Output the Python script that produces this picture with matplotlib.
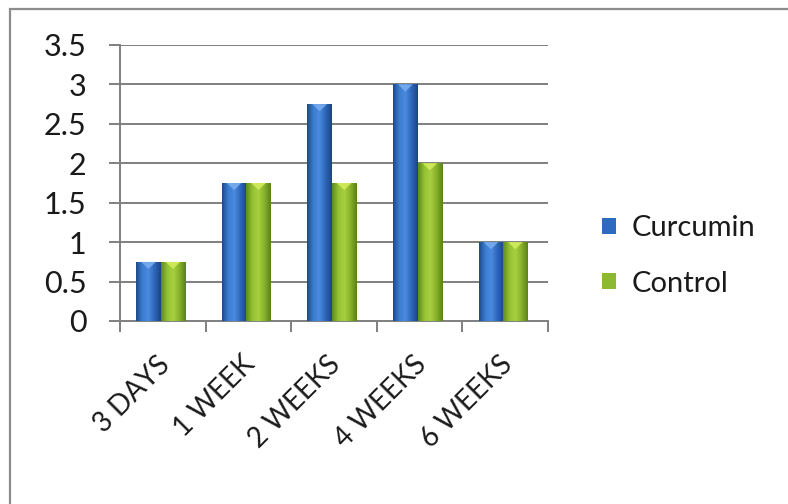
import matplotlib
matplotlib.use("Agg")
import matplotlib.pyplot as plt
import numpy as np
from matplotlib.patches import Rectangle, Polygon
from matplotlib.colors import LinearSegmentedColormap

categories = ["3 DAYS", "1 WEEK", "2 WEEKS", "4 WEEKS", "6 WEEKS"]
curcumin = [0.75, 1.75, 2.75, 3.0, 1.0]
control = [0.75, 1.75, 1.75, 2.0, 1.0]
series_names = ["Curcumin", "Control"]
y_ticks = [0, 0.5, 1, 1.5, 2, 2.5, 3, 3.5]
y_tick_labels = ["0", "0.5", "1", "1.5", "2", "2.5", "3", "3.5"]

plt.rcParams['font.family'] = ['Lato', 'DejaVu Sans']

fig = plt.figure(figsize=(7.88, 5.04), dpi=100)
# outer chart border (top and left visible)
fig.add_artist(Rectangle((10/788, -0.1), 1.2, (504-9)/504 + 0.1, transform=fig.transFigure,
                         fill=False, edgecolor="#8c8c8c", linewidth=1.6))

ax = fig.add_axes([120/788, (504-321)/504, (548-120)/788, (321-45)/504])
ax.set_xlim(0, len(categories))
ax.set_ylim(0, 3.5)

grid_c = "#7f7f7f"
for y in y_ticks[1:]:
    ax.axhline(y, color=grid_c, linewidth=1.4, zorder=1)

for s in ["top", "right"]:
    ax.spines[s].set_visible(False)
for s in ["left", "bottom"]:
    ax.spines[s].set_color(grid_c)
    ax.spines[s].set_linewidth(1.4)

ax.set_yticks(y_ticks)
ax.set_yticklabels(y_tick_labels, fontsize=22, color="#1a1a1a")
ax.set_xticks(np.arange(len(categories) + 1))
ax.set_xticklabels([])
ax.tick_params(axis="both", direction="out", length=8, width=1.4, color=grid_c)
ax.tick_params(axis="y", pad=16)

# category labels at centers
for i, lab in enumerate(categories):
    ax.text(i + 0.53, -0.5, lab, rotation=45, ha="right", va="center",
            rotation_mode="anchor", fontsize=20, color="#1a1a1a",
            transform=ax.transData, clip_on=False)

blue_cmap = LinearSegmentedColormap.from_list("b", ["#1d4a8c", "#3b7dd0", "#4a8ae0", "#2d66b8", "#1c4584"])
green_cmap = LinearSegmentedColormap.from_list("g", ["#5f8a1a", "#94c232", "#a8d040", "#86b02a", "#5a8218"])
grad = np.linspace(0, 1, 64).reshape(1, -1)

w = 0.286
start = 0.19
def draw_bar(x0, h, cmap, top_c):
    rect = Rectangle((x0, 0), w, h, facecolor="none", edgecolor="none", zorder=3)
    ax.add_patch(rect)
    im = ax.imshow(grad, cmap=cmap, extent=(x0, x0 + w, 0, h), aspect="auto", zorder=3)
    im.set_clip_path(rect)
    th = 0.09
    tri = Polygon([(x0 + 0.2 * w, h), (x0 + 0.8 * w, h), (x0 + 0.5 * w, h - th)],
                  closed=True, facecolor=top_c, edgecolor="none", alpha=0.8, zorder=4)
    ax.add_patch(tri)

for i in range(len(categories)):
    draw_bar(i + start, curcumin[i], blue_cmap, "#7fb2f0")
    draw_bar(i + start + w, control[i], green_cmap, "#d8f060")

ax.set_xlim(0, len(categories))
ax.set_ylim(0, 3.5)

# legend
handles = [Rectangle((0, 0), 1, 1, facecolor="#2e6bc0", edgecolor="none"),
           Rectangle((0, 0), 1, 1, facecolor="#8db832", edgecolor="none")]
fig.legend(handles, series_names, loc="center left", bbox_to_anchor=(602/788, 1 - 256/504),
           frameon=False, fontsize=21, handlelength=0.48, handleheight=0.48,
           handletextpad=0.55, labelspacing=1.0, borderpad=0, borderaxespad=0,
           labelcolor="#1a1a1a")

fig.savefig("out.png", dpi=100)
